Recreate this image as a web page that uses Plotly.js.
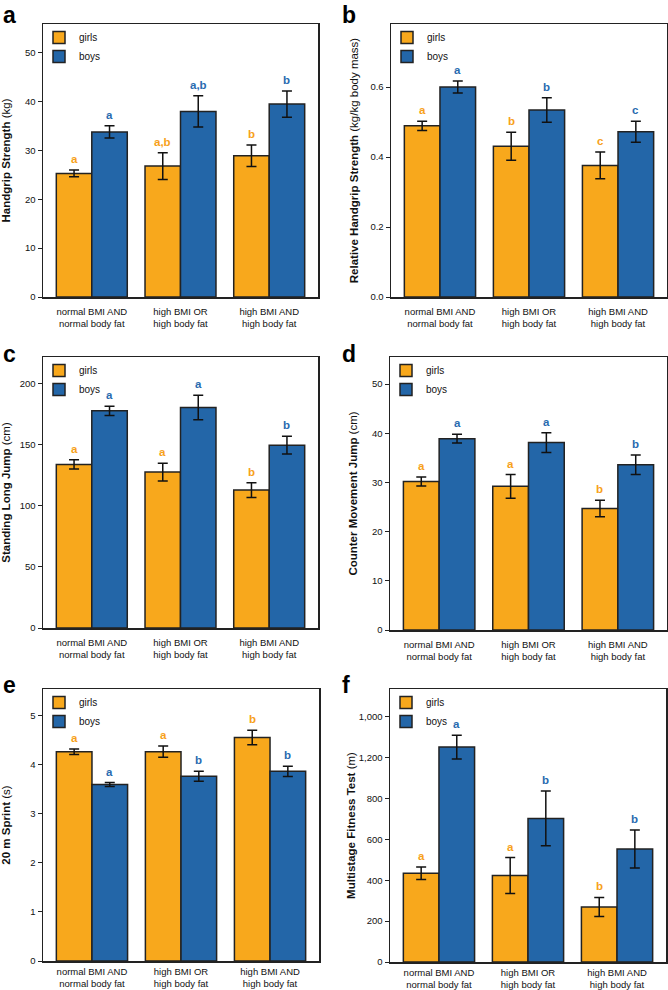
<!DOCTYPE html>
<html>
<head>
<meta charset="utf-8">
<script src="https://cdn.plot.ly/plotly-3.0.1.min.js"></script>
<style>html,body{margin:0;padding:0;background:#fff}#chart{width:668px;height:990px}</style>
</head>
<body>
<div id="chart"></div>
<script>
// ---------- DATA ----------
var categories = ["normal BMI AND<br>normal body fat", "high BMI OR<br>high body fat", "high BMI AND<br>high body fat"];
var seriesNames = ["girls", "boys"];

var handgripGirls = [25.3, 26.8, 28.9];
var handgripGirlsErr = [0.7, 2.75, 2.2];
var handgripBoys = [33.8, 38.0, 39.5];
var handgripBoysErr = [1.25, 3.2, 2.7];
var handgripGirlsLetters = ["a", "a,b", "b"];
var handgripBoysLetters = ["a", "a,b", "b"];

var relGirls = [0.489, 0.431, 0.376];
var relGirlsErr = [0.013, 0.040, 0.038];
var relBoys = [0.600, 0.534, 0.472];
var relBoysErr = [0.017, 0.035, 0.030];
var relGirlsLetters = ["a", "b", "c"];
var relBoysLetters = ["a", "b", "c"];

var jumpGirls = [134, 127.7, 113];
var jumpGirlsErr = [3.8, 7.2, 6];
var jumpBoys = [177.9, 180.6, 149.8];
var jumpBoysErr = [3.8, 10, 7.2];
var jumpGirlsLetters = ["a", "a", "b"];
var jumpBoysLetters = ["a", "a", "b"];

var cmjGirls = [30.2, 29.2, 24.7];
var cmjGirlsErr = [0.9, 2.4, 1.7];
var cmjBoys = [38.9, 38.1, 33.6];
var cmjBoysErr = [0.9, 2.0, 2.0];
var cmjGirlsLetters = ["a", "a", "b"];
var cmjBoysLetters = ["a", "a", "b"];

var sprintGirls = [4.27, 4.27, 4.56];
var sprintGirlsErr = [0.055, 0.115, 0.15];
var sprintBoys = [3.60, 3.77, 3.87];
var sprintBoysErr = [0.04, 0.10, 0.105];
var sprintGirlsLetters = ["a", "a", "b"];
var sprintBoysLetters = ["a", "b", "b"];

var mftGirls = [434, 423, 269];
var mftGirlsErr = [31, 88, 47];
var mftBoys = [1051, 702, 553];
var mftBoysErr = [58, 134, 93];
var mftGirlsLetters = ["a", "a", "b"];
var mftBoysLetters = ["a", "b", "b"];
// tick labels as printed in the figure (upper two are swapped in the original)
var mftTickVals = [0, 200, 400, 600, 800, 1000, 1200];
var mftTickText = ["0", "200", "400", "600", "800", "1,200", "1,000"];

var panelLetters = ["a", "b", "c", "d", "e", "f"];
var yTitles = [
  "<b>Handgrip Strength</b> (kg)",
  "<b>Relative Handgrip Strength</b> (kg/kg body mass)",
  "<b>Standing Long Jump</b> (cm)",
  "<b>Counter Movement Jump</b> (cm)",
  "<b>20 m Sprint</b> (s)",
  "<b>Multistage Fitness Test</b> (m)"
];

// ---------- STYLE / LAYOUT ----------
var W = 668, H = 990;
var ORANGE = "#F8A81C", BLUE = "#2366A8";
var ORANGE_TXT = "#F7A11A", BLUE_TXT = "#2A6BB0";
var FONT = "Liberation Sans, Arial, sans-serif";

// plot boxes in pixels: [left, right, top, bottom]
var boxes = [
  [43, 318, 24, 297],
  [391, 667, 24, 297],
  [43, 318, 357, 628],
  [390, 667, 357, 630],
  [43, 319, 689, 961],
  [390, 666, 689, 962]
];
var xLabelStandoff = [5, 5, 5, 5, 1, 1];
var yRanges = [[0, 55.9], [0, 0.78], [0, 222], [0, 55.5], [0, 5.55], [0, 1335]];
var letterPos = [[1, 15], [340, 15], [1, 354], [340, 354], [1, 685], [340, 685]];

var panels = [
  [handgripGirls, handgripGirlsErr, handgripBoys, handgripBoysErr, handgripGirlsLetters, handgripBoysLetters],
  [relGirls, relGirlsErr, relBoys, relBoysErr, relGirlsLetters, relBoysLetters],
  [jumpGirls, jumpGirlsErr, jumpBoys, jumpBoysErr, jumpGirlsLetters, jumpBoysLetters],
  [cmjGirls, cmjGirlsErr, cmjBoys, cmjBoysErr, cmjGirlsLetters, cmjBoysLetters],
  [sprintGirls, sprintGirlsErr, sprintBoys, sprintBoysErr, sprintGirlsLetters, sprintBoysLetters],
  [mftGirls, mftGirlsErr, mftBoys, mftBoysErr, mftGirlsLetters, mftBoysLetters]
];

var xIdx = categories.map(function (c, i) { return i; });

var data = [];
var layout = {
  width: W, height: H,
  margin: {l: 0, r: 0, t: 0, b: 0},
  paper_bgcolor: "#fff", plot_bgcolor: "#fff",
  font: {family: FONT, color: "#111", size: 10},
  barmode: "group", bargap: 0.2, bargroupgap: 0,
  annotations: [],
  showlegend: true
};

panels.forEach(function (p, k) {
  var n = k + 1;
  var xa = "x" + (n > 1 ? n : ""), ya = "y" + (n > 1 ? n : "");
  var xKey = "xaxis" + (n > 1 ? n : ""), yKey = "yaxis" + (n > 1 ? n : "");
  var legKey = "legend" + (n > 1 ? n : "");
  var b = boxes[k];
  var errStyle = {type: "data", visible: true, color: "#111", thickness: 1.5, width: 5};

  data.push({
    type: "bar", name: seriesNames[0], x: xIdx, y: p[0],
    error_y: Object.assign({array: p[1]}, errStyle),
    marker: {color: ORANGE, line: {color: "#222", width: 1.5}},
    xaxis: xa, yaxis: ya, legend: legKey, hoverinfo: "skip"
  });
  data.push({
    type: "bar", name: seriesNames[1], x: xIdx, y: p[2],
    error_y: Object.assign({array: p[3]}, errStyle),
    marker: {color: BLUE, line: {color: "#222", width: 1.5}},
    xaxis: xa, yaxis: ya, legend: legKey, hoverinfo: "skip"
  });

  layout[xKey] = {
    domain: [b[0] / W, b[1] / W],
    anchor: ya,
    range: [-0.55, 2.55],
    tickvals: xIdx, ticktext: categories,
    ticks: "", showgrid: false, zeroline: false,
    showline: true, linecolor: "#222", linewidth: 1.5, mirror: true,
    ticklabelstandoff: xLabelStandoff[k],
    tickfont: {size: 9.5, color: "#111"}, fixedrange: true
  };
  var yax = {
    domain: [1 - b[3] / H, 1 - b[2] / H],
    anchor: xa,
    range: yRanges[k],
    ticks: "outside", ticklen: 4, tickwidth: 1, tickcolor: "#222",
    showgrid: false, zeroline: false,
    showline: true, linecolor: "#222", linewidth: 1.5, mirror: true,
    tickfont: {size: 9.5, color: "#111"},
    title: {text: yTitles[k], font: {size: 11.5, color: "#111"}},
    fixedrange: true
  };
  if (k === 0) yax.dtick = 10;
  if (k === 1) { yax.dtick = 0.2; yax.tickformat = ".1f"; }
  if (k === 2) yax.dtick = 50;
  if (k === 3) yax.dtick = 10;
  if (k === 4) yax.dtick = 1;
  if (k === 5) { yax.tickmode = "array"; yax.tickvals = mftTickVals; yax.ticktext = mftTickText; }
  layout[yKey] = yax;

  layout[legKey] = {
    x: (b[0] - 4) / W, y: 1 - (b[2] - 1) / H,
    xanchor: "left", yanchor: "top",
    bgcolor: "rgba(0,0,0,0)", borderwidth: 0,
    font: {size: 10, color: "#111"},
    traceorder: "normal", itemclick: false, itemdoubleclick: false
  };

  // significance letters above error bars
  for (var i = 0; i < xIdx.length; i++) {
    layout.annotations.push({
      xref: xa, yref: ya, x: xIdx[i] - 0.2, y: p[0][i] + p[1][i],
      text: "<b>" + p[4][i] + "</b>", showarrow: false,
      yanchor: "bottom", yshift: 3,
      font: {size: 11.5, color: ORANGE_TXT}
    });
    layout.annotations.push({
      xref: xa, yref: ya, x: xIdx[i] + 0.2, y: p[2][i] + p[3][i],
      text: "<b>" + p[5][i] + "</b>", showarrow: false,
      yanchor: "bottom", yshift: 3,
      font: {size: 11.5, color: BLUE_TXT}
    });
  }

  // panel letter
  layout.annotations.push({
    xref: "paper", yref: "paper",
    x: letterPos[k][0] / W, y: 1 - letterPos[k][1] / H,
    xanchor: "left", yanchor: "middle",
    text: "<b>" + panelLetters[k] + "</b>", showarrow: false,
    font: {size: 23, color: "#000"}
  });
});

Plotly.newPlot("chart", data, layout, {displayModeBar: false, staticPlot: true});
</script>
</body>
</html>
